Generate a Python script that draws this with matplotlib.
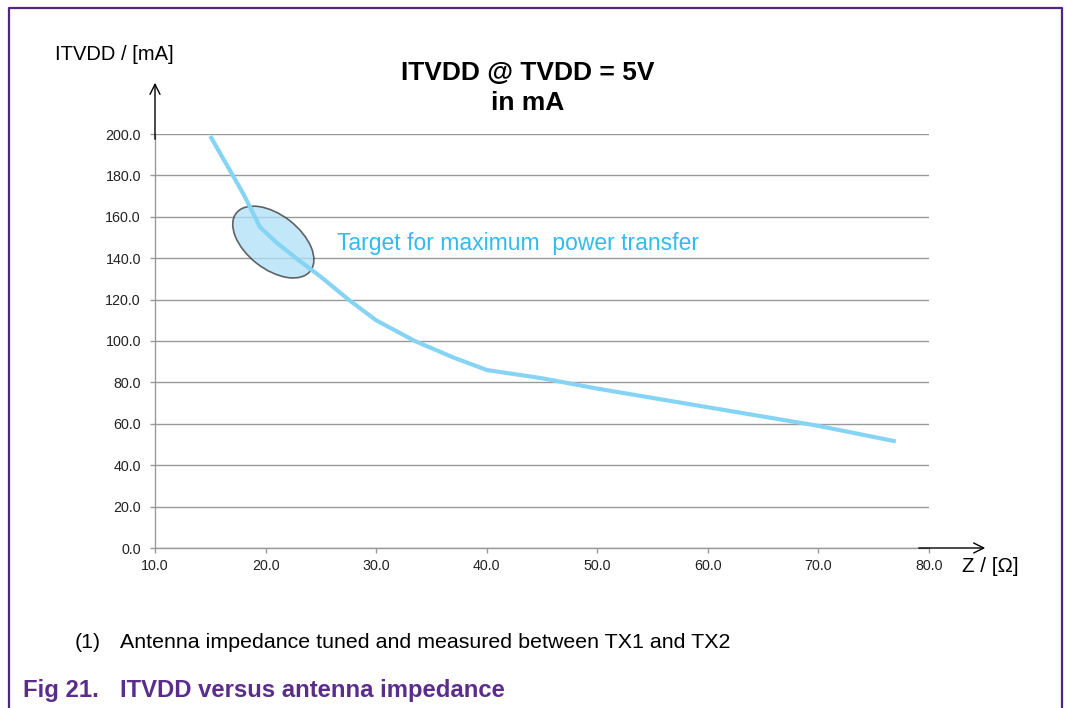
import matplotlib.pyplot as plt
from matplotlib.patches import Ellipse
from matplotlib.lines import Line2D
from matplotlib.transforms import ScaledTranslation

plt.rcParams['font.family'] = ['Liberation Sans', 'DejaVu Sans']

# impedance Z [Ohm] vs ITVDD [mA]
z_ohm = [15, 16.5, 18, 19.5, 21, 23, 25, 27.5, 30, 33.5, 37, 40, 45, 50, 55, 60, 65, 70, 77]
itvdd_ma = [199, 185, 171, 155, 147.5, 139, 131, 120, 110, 100, 92, 86, 82, 77, 72.5, 68, 63.5, 59, 51.5]

x_ticks = [10, 20, 30, 40, 50, 60, 70, 80]
y_ticks = [0, 20, 40, 60, 80, 100, 120, 140, 160, 180, 200]

target_center = (20.7, 147.8)

purple = '#4f2683'
line_blue = '#86d4f4'

fig = plt.figure(figsize=(10.66, 7.08), dpi=100)
ax = fig.add_axes([155 / 1066, 1 - 548 / 708, (929 - 155) / 1066, (548 - 134) / 708])

ax.set_xlim(10, 80)
ax.set_ylim(0, 200)
ax.set_xticks(x_ticks)
ax.set_yticks(y_ticks)
ax.set_xticklabels([f'{v:.1f}' for v in x_ticks], fontsize=10.3, color='#222222')
ax.set_yticklabels([f'{v:.1f}' for v in y_ticks], fontsize=10.3, color='#222222')
ax.tick_params(axis='both', length=3.6, width=1, color='#999999')
ax.tick_params(axis='y', pad=6.5)
ax.tick_params(axis='x', pad=4)
ax.grid(axis='y', color='#999999', linewidth=1)
ax.set_axisbelow(True)
for s in ['top', 'right']:
    ax.spines[s].set_visible(False)
for s in ['left', 'bottom']:
    ax.spines[s].set_color('#999999')
    ax.spines[s].set_linewidth(1)

# highlighted target region
ell = Ellipse((0, 0), 0.94, 0.54, angle=-38,
              transform=fig.dpi_scale_trans + ScaledTranslation(*target_center, ax.transData),
              facecolor='#aee0f7', alpha=0.75, edgecolor='#333333', linewidth=1.2, zorder=3)
ax.add_patch(ell)

ax.plot(z_ohm, itvdd_ma, color=line_blue, linewidth=3, zorder=4, solid_capstyle='butt',
        solid_joinstyle='round')

ax.text(26.5, 147, 'Target for maximum  power transfer', color='#33bbee', fontsize=16.5,
        va='center', ha='left')

# arrows for axes
ax.annotate('', xy=(155 / 1066, 1 - 80 / 708), xytext=(155 / 1066, 1 - 142 / 708),
            xycoords='figure fraction',
            arrowprops=dict(arrowstyle='->', color='black', lw=1, mutation_scale=18))
ax.annotate('', xy=(988 / 1066, 1 - 548 / 708), xytext=(916 / 1066, 1 - 548 / 708),
            xycoords='figure fraction',
            arrowprops=dict(arrowstyle='->', color='black', lw=1, mutation_scale=18))

fig.text(55 / 1066, 1 - 55 / 708, 'ITVDD / [mA]', fontsize=14.5, va='center', ha='left')
fig.text(962 / 1066, 1 - 566 / 708, 'Z / [Ω]', fontsize=14.8, va='center', ha='left')
fig.text(528 / 1066, 1 - 88 / 708, 'ITVDD @ TVDD = 5V\nin mA', fontsize=19, fontweight='bold',
         va='center', ha='center', linespacing=1.3)

fig.text(75 / 1066, 1 - 643 / 708, '(1)', fontsize=15.4, va='center', ha='left')
fig.text(120 / 1066, 1 - 643 / 708, 'Antenna impedance tuned and measured between TX1 and TX2',
         fontsize=15.4, va='center', ha='left')
fig.text(23 / 1066, 1 - 690 / 708, 'Fig 21.', fontsize=17.2,
         fontweight='bold', color='#5a2d8c', va='center', ha='left')
fig.text(120 / 1066, 1 - 690 / 708, 'ITVDD versus antenna impedance', fontsize=17.2,
         fontweight='bold', color='#5a2d8c', va='center', ha='left')

# page frame (open at the bottom)
fx = [8.5 / 1066, 8.5 / 1066, 1062 / 1066, 1062 / 1066]
fy = [0, 1 - 7.5 / 708, 1 - 7.5 / 708, 0]
fig.add_artist(Line2D(fx, fy, transform=fig.transFigure, color=purple, linewidth=1.6))

fig.savefig('out.png', dpi=100)
